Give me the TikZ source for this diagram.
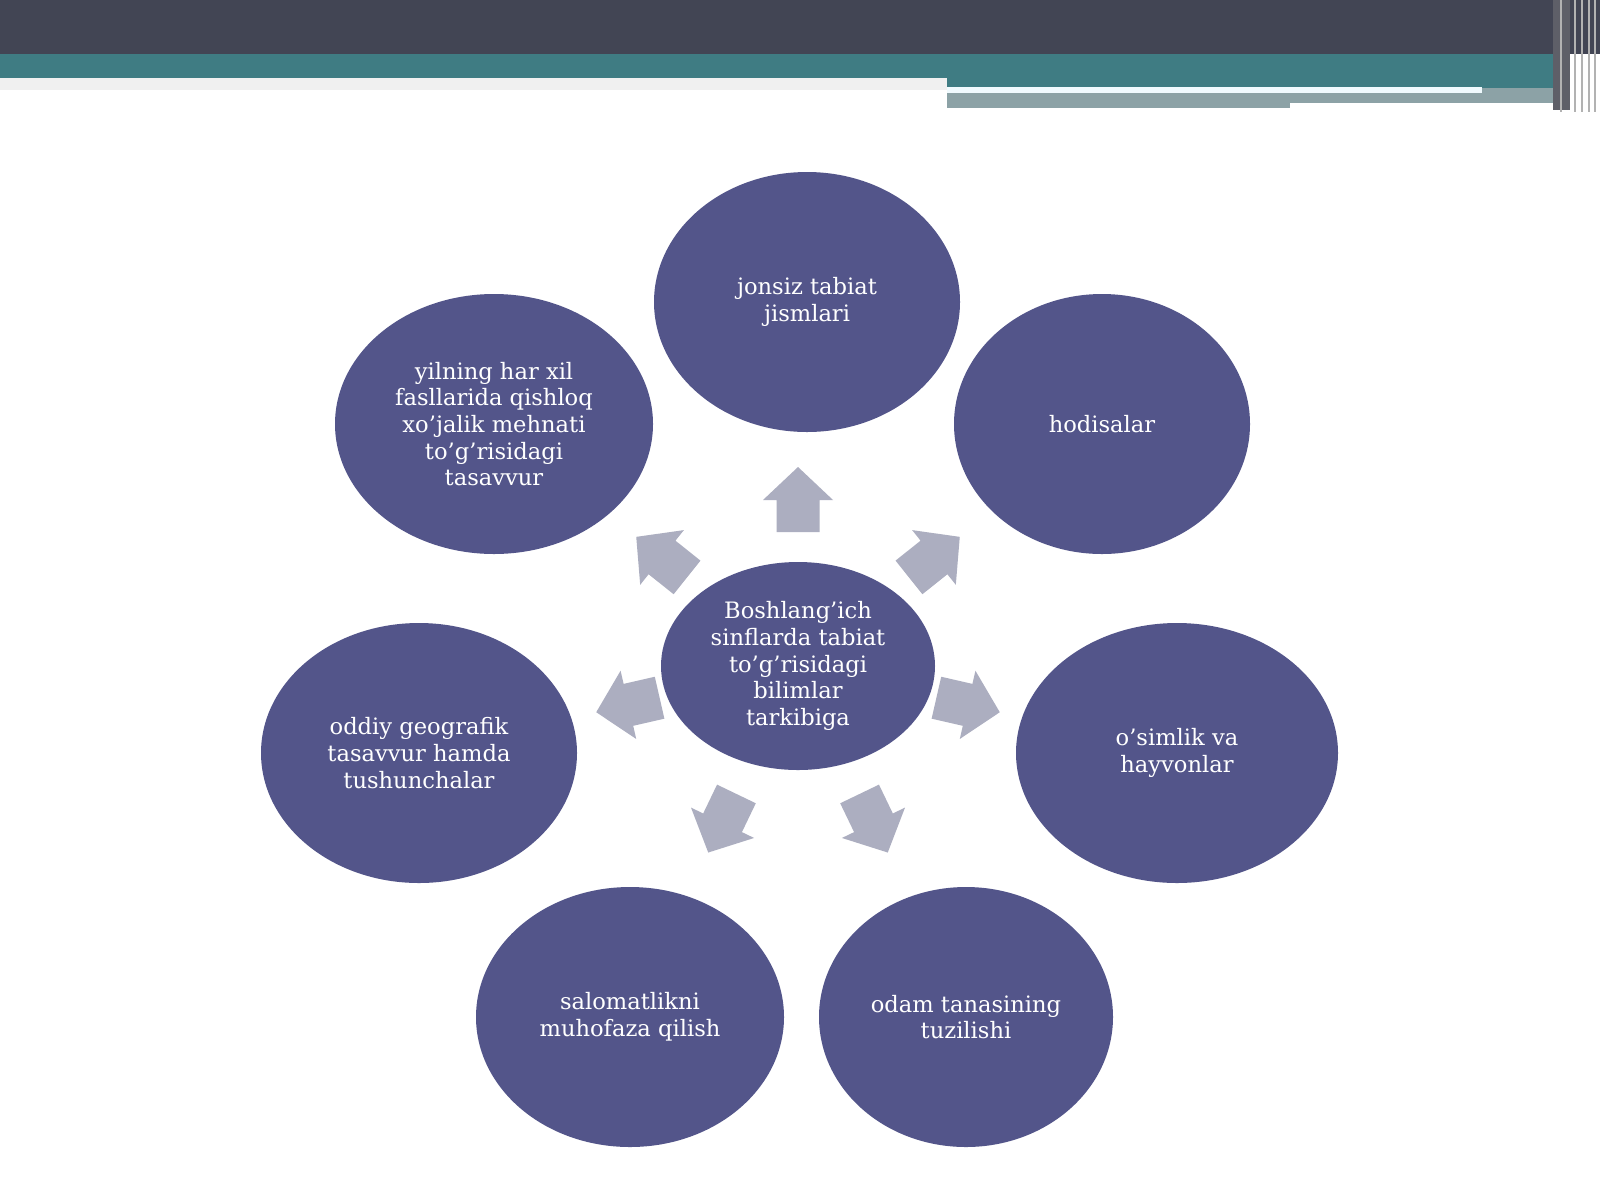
\documentclass[tikz,border=0pt]{standalone}
\usepackage{fontspec}
\setmainfont{DejaVu Serif}
\usepackage{tikz}
\usetikzlibrary{
	positioning,
	shapes.geometric
}
\definecolor{BarDark}{RGB}{66,69,84}
\definecolor{BarTeal}{RGB}{63,124,131}
\definecolor{BarGrey}{RGB}{140,162,166}
\definecolor{OvalBlue}{RGB}{83,85,138}
\definecolor{ArrowGrey}{RGB}{172,174,192}

\tikzset{
	oval/.style={ellipse, fill=OvalBlue, text=white, align=center, inner sep=0pt,
		font=\fontsize{11.3}{13.3}\selectfont, minimum width=#1, minimum height=130pt},
	oval/.default=150pt
}

\begin{document}
\begin{tikzpicture}[x=0.5pt, y=-0.5pt]
	\useasboundingbox (0,0) rectangle (1600,1200);
	\fill[white] (0,0) rectangle (1600,1200);
	
	% top bar
	\fill[gray!12] (0,76) rectangle (947,90);
	\fill[BarDark] (0,0) rectangle (1600,54);
	\fill[BarTeal] (0,54) rectangle (1570,78);
	\fill[BarTeal] (947,78) rectangle (1570,88);
	\fill[BarGrey] (947,88) rectangle (1570,108);
	\fill[cyan!6] (947,87) rectangle (1482,93);
	\fill[white] (1290,103) rectangle (1568,110);
	\fill[gray!45!BarDark] (1553,0) rectangle (1570,110);
	\foreach \x in {1561,1575,1582,1589,1595}
		\draw[gray!60, line width=1pt] (\x,0) -- (\x,112);
	
	% centre
	\node[oval=137pt, minimum height=104pt] (hub) at (798,666)
		{Boshlang’ich\\sinflarda tabiat\\to’g’risidagi\\bilimlar\\tarkibiga};
	
	% outer ovals
	\node[oval=153pt] (jonsiz) at (807,302) {jonsiz tabiat\\jismlari};
	\node[oval=148pt] (hodisa) at (1102,424) {hodisalar};
	\node[oval=161pt] (osimlik) at (1177,753) {o’simlik va\\hayvonlar};
	\node[oval=147pt] (odam) at (966,1017) {odam tanasining\\tuzilishi};
	\node[oval=154pt] (salomat) at (630,1017) {salomatlikni\\muhofaza qilish};
	\node[oval=158pt] (geograf) at (419,753) {oddiy geografik\\tasavvur hamda\\tushunchalar};
	\node[oval=159pt] (yilning) at (494,424)
		{yilning har xil\\fasllarida qishloq\\xo’jalik mehnati\\to’g’risidagi\\tasavvur};
	
	% block arrows (angle / tail distance)
	\foreach \a/\r in {90/134,38.6/142,-12.9/142,-64.3/142,-115.7/142,-167.1/142,141.4/142}
		\fill[ArrowGrey, shift={(hub.center)}, rotate=\a]
			(\r,-21.5) -- (\r+32,-21.5) -- (\r+32,-35) -- (\r+65,0) -- (\r+32,35)
			-- (\r+32,21.5) -- (\r,21.5) -- cycle;
\end{tikzpicture}
\end{document}
